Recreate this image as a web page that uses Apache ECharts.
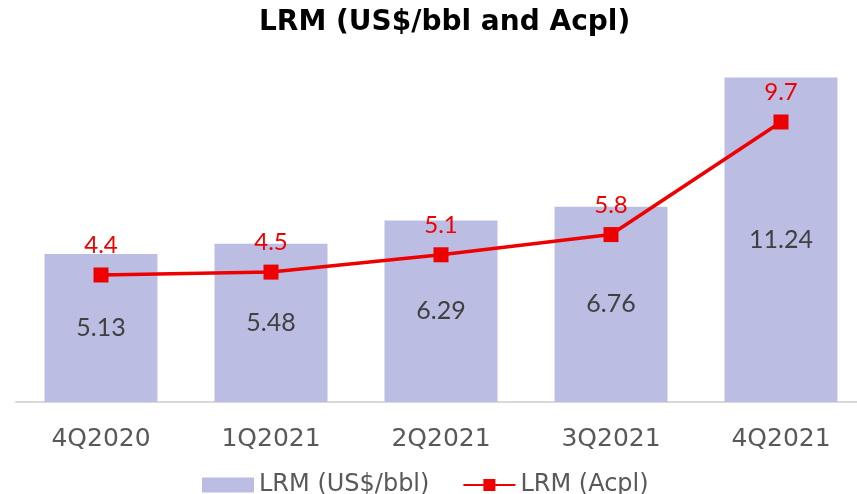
<!DOCTYPE html>
<html><head><meta charset="utf-8">
<script src="https://cdn.jsdelivr.net/npm/echarts@6/dist/echarts.min.js"></script>
<style>html,body{margin:0;padding:0;background:#fff}#c{width:857px;height:494px}</style>
</head><body><div id="c"></div>
<script>
var categories = ['4Q2020','1Q2021','2Q2021','3Q2021','4Q2021'];
var barValues = [5.13, 5.48, 6.29, 6.76, 11.24];
var lineValues = [4.4, 4.5, 5.1, 5.8, 9.7];
var barName = 'LRM (US$/bbl)';
var lineName = 'LRM (Acpl)';
var titleText = 'LRM (US$/bbl and Acpl)';

var chart = echarts.init(document.getElementById('c'));
var TFONT = 'DejaVu Sans';
var NFONT = 'Lato';
chart.setOption({
  animation: false,
  title: {
    text: titleText, left: 254, top: 4,
    textStyle: {fontFamily: TFONT, fontWeight: 'bold', fontSize: 28, color: '#000'}
  },
  legend: {
    top: 468, left: 197,
    itemWidth: 52, itemHeight: 15, itemGap: 33,
    textStyle: {fontFamily: TFONT, fontSize: 24, color: '#595959'},
    data: [{name: barName, icon: 'rect'}, {name: lineName}]
  },
  grid: {left: 16, width: 850, top: 55.6, bottom: 92, outerBoundsMode: 'none', containLabel: false},
  xAxis: {
    type: 'category', data: categories,
    axisLine: {lineStyle: {color: '#D9D9D9', width: 2}},
    axisTick: {show: false},
    axisLabel: {fontFamily: TFONT, fontSize: 25, color: '#595959', margin: 25}
  },
  yAxis: {type: 'value', min: 0, max: 12, show: false, splitLine: {show: false}},
  series: [
    {
      name: barName, type: 'bar', data: barValues, barWidth: 113,
      itemStyle: {color: '#BBBDE2'},
      label: {show: true, position: 'inside', fontFamily: NFONT, fontSize: 25, color: '#404040'}
    },
    {
      name: lineName, type: 'line', data: lineValues,
      symbol: 'rect', symbolSize: 15,
      lineStyle: {color: '#EE0000', width: 3.5},
      itemStyle: {color: '#EE0000'},
      label: {show: true, position: 'top', distance: 10, fontFamily: NFONT, fontSize: 24, color: '#EE0000'}
    }
  ]
});
</script></body></html>
